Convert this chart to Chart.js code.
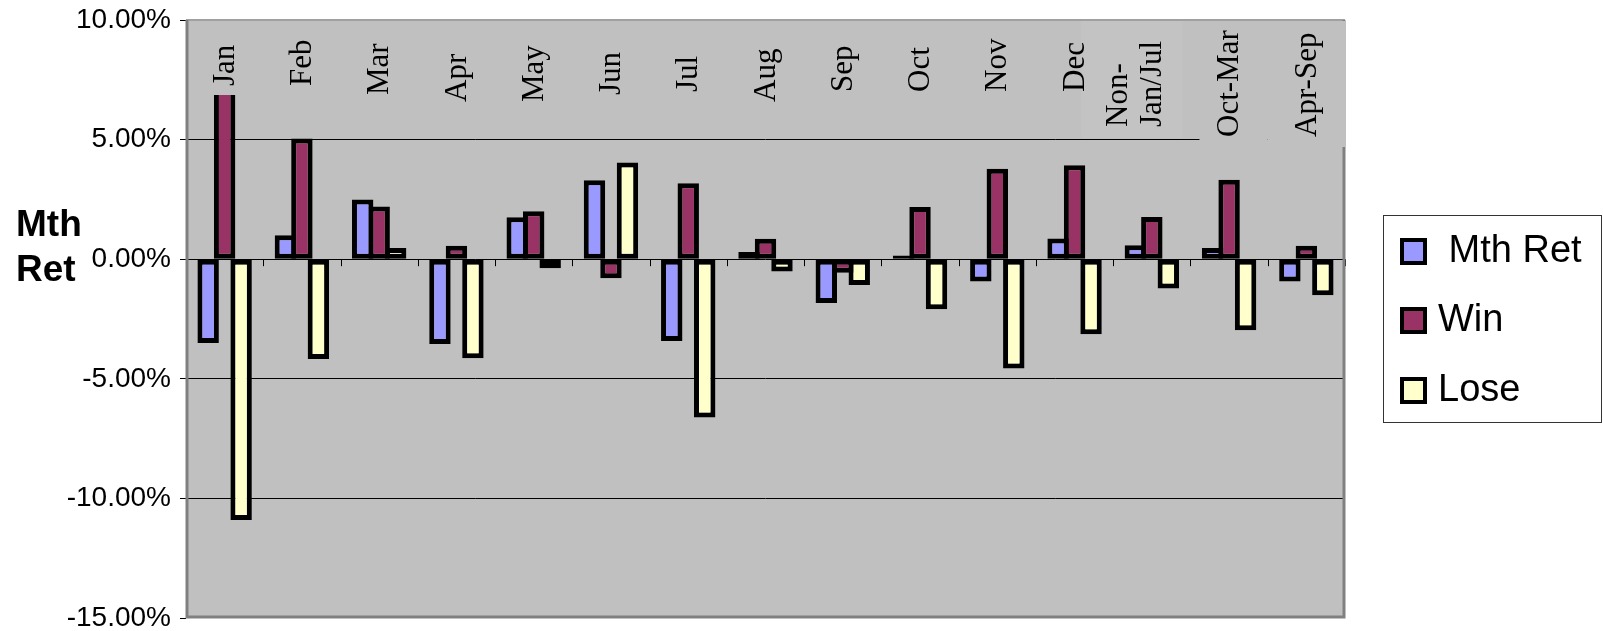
<!DOCTYPE html>
<html>
<head>
<meta charset="utf-8">
<script src="https://cdn.jsdelivr.net/npm/chart.js@4/dist/chart.umd.min.js"></script>
<style>
  html, body { margin: 0; padding: 0; background: #fff; }
  #wrap { width: 1603px; height: 631px; }
</style>
</head>
<body>
<div id="wrap"><canvas id="chart" width="1603" height="631"></canvas></div>
<script>
// values in percent
const categories = ['Jan', 'Feb', 'Mar', 'Apr', 'May', 'Jun', 'Jul', 'Aug', 'Sep', 'Oct', 'Nov', 'Dec',
  ['Non-', 'Jan/Jul'], 'Oct-Mar', 'Apr-Sep'];
const mthRet = [-3.5, 1.0, 2.5, -3.55, 1.75, 3.3, -3.42, 0.3, -1.83, 0.15, -0.93, 0.87, 0.58, 0.47, -0.93];
const win = [7.5, 5.05, 2.2, 0.56, 2.0, -0.8, 3.18, 0.86, -0.57, 2.18, 3.78, 3.93, 1.76, 3.32, 0.56];
const lose = [-10.9, -4.17, 0.47, -4.14, -0.38, 4.04, -6.62, -0.51, -1.08, -2.09, -4.57, -3.14, -1.23, -2.97, -1.51];
const seriesNames = [' Mth Ret', 'Win', 'Lose'];
const yTicks = [10, 5, 0, -5, -10, -15];

// label text boxes (style only)
const labelStart = [86, 86, 95, 102, 102, 95, 92, 102, 92, 92, 92, 92, 127, 137, 137];
const boxBottom = [95, 95, 95, 95, 95, 95, 95, 95, 95, 95, 95, 95, 138, 147, 147];

const colors = ['#9999ff', '#993366', '#ffffcc'];

function boundary(xs, i) {
  const half = (xs.getPixelForValue(1) - xs.getPixelForValue(0)) / 2;
  return xs.getPixelForValue(i) - half;
}

const plotBg = {
  id: 'plotBg',
  beforeDraw(chart) {
    const { ctx, chartArea: a } = chart;
    ctx.save();
    ctx.fillStyle = '#c0c0c0';
    ctx.fillRect(a.left, a.top, a.right - a.left, a.bottom - a.top);
    ctx.restore();
  }
};

const overlay = {
  id: 'overlay',
  afterDraw(chart) {
    const { ctx, chartArea: a } = chart;
    const xs = chart.scales.x, ys = chart.scales.y;
    const y0 = ys.getPixelForValue(0);
    ctx.save();

    // category ticks on the zero line
    ctx.strokeStyle = '#000';
    ctx.lineWidth = 1;
    for (let i = 1; i <= categories.length; i++) {
      const bx = Math.round(boundary(xs, i)) + 0.5;
      ctx.beginPath();
      ctx.moveTo(bx, y0);
      ctx.lineTo(bx, y0 + 7);
      ctx.stroke();
    }

    // plot frame
    ctx.strokeStyle = '#a0a0a0';
    ctx.lineWidth = 2;
    ctx.beginPath();
    ctx.moveTo(a.left, a.top);
    ctx.lineTo(a.right, a.top);
    ctx.stroke();
    ctx.strokeStyle = '#808080';
    ctx.lineWidth = 3;
    ctx.beginPath();
    ctx.moveTo(a.left + 1, a.top);
    ctx.lineTo(a.left + 1, a.bottom - 1);
    ctx.lineTo(a.right - 1, a.bottom - 1);
    ctx.lineTo(a.right - 1, a.top);
    ctx.stroke();

    // label boxes
    categories.forEach((c, i) => {
      let l = boundary(xs, i), r = boundary(xs, i + 1);
      if (i === 0) l = a.left + 3;
      if (i === 12) { l -= 32; r -= 8; }
      if (i === 13) { l += 9; }
      if (i === 14) { r = a.right; }
      ctx.fillStyle = i === 12 ? '#c3c3c3' : '#c0c0c0';
      ctx.fillRect(l, a.top + 1, r - l, boxBottom[i] - a.top - 1);
    });

    // category labels, rotated
    ctx.fillStyle = '#000';
    ctx.font = '31px "Liberation Serif", "Times New Roman", serif';
    ctx.textAlign = 'left';
    ctx.textBaseline = 'middle';
    categories.forEach((c, i) => {
      const lines = Array.isArray(c) ? c : [c];
      const cx = xs.getPixelForValue(i);
      lines.forEach((t, k) => {
        ctx.save();
        ctx.translate(cx - (lines.length - 1 - k) * 34, labelStart[i]);
        ctx.rotate(-Math.PI / 2);
        ctx.fillText(t, 0, 1);
        ctx.restore();
      });
    });

    // y title
    ctx.font = 'bold 37px "Liberation Sans", Arial, sans-serif';
    ctx.textAlign = 'left';
    ctx.fillText('Mth', 16, 226);
    ctx.fillText('Ret', 16, 271);

    // legend
    const lx = 1383, ly = 215, lw = 219, lh = 208;
    ctx.fillStyle = '#fff';
    ctx.fillRect(lx, ly, lw, lh);
    ctx.strokeStyle = '#333';
    ctx.lineWidth = 1;
    ctx.strokeRect(lx + 0.5, ly + 0.5, lw - 1, lh - 1);
    ctx.font = '38px "Liberation Sans", Arial, sans-serif';
    const rows = [251, 320, 390];
    chart.data.datasets.forEach((ds, i) => {
      const sy = rows[i];
      ctx.fillStyle = '#000';
      ctx.fillRect(1400, sy - 13, 27, 27);
      ctx.fillStyle = ds.backgroundColor;
      ctx.fillRect(1404, sy - 9, 19, 19);
      ctx.fillStyle = '#000';
      ctx.fillText(ds.label, 1438, sy + 1);
    });

    ctx.restore();
  }
};

const ctx = document.getElementById('chart').getContext('2d');
const chart = new Chart(ctx, {
  type: 'bar',
  data: {
    labels: categories,
    datasets: [mthRet, win, lose].map((d, i) => ({
      label: seriesNames[i],
      data: d,
      backgroundColor: colors[i],
      borderColor: '#000',
      borderWidth: 5,
      borderSkipped: false,
      categoryPercentage: 0.64,
      barPercentage: 1.3
    }))
  },
  options: {
    responsive: false,
    animation: false,
    devicePixelRatio: 1,
    layout: { padding: { left: 0, top: 20, right: 258, bottom: 13 } },
    plugins: {
      legend: { display: false },
      tooltip: { enabled: false }
    },
    scales: {
      x: { display: false },
      y: {
        min: -15,
        max: 10,
        afterFit(scale) {
          scale.width = 186;
          scale.paddingTop = 0;
          scale.paddingBottom = 0;
        },
        afterBuildTicks(scale) { scale.ticks = yTicks.map(v => ({ value: v })); },
        border: { display: false },
        grid: {
          color: c => (c.tick && (c.tick.value === 10 || c.tick.value === -15)) ? 'rgba(0,0,0,0)' : '#000',
          lineWidth: 1,
          tickColor: '#000',
          tickLength: 6
        },
        ticks: {
          color: '#000',
          padding: 9,
          font: { family: '"Liberation Sans", Arial, sans-serif', size: 28, lineHeight: 1 },
          callback: v => v.toFixed(2) + '%'
        }
      }
    }
  },
  plugins: [plotBg, overlay]
});
</script>
</body>
</html>
